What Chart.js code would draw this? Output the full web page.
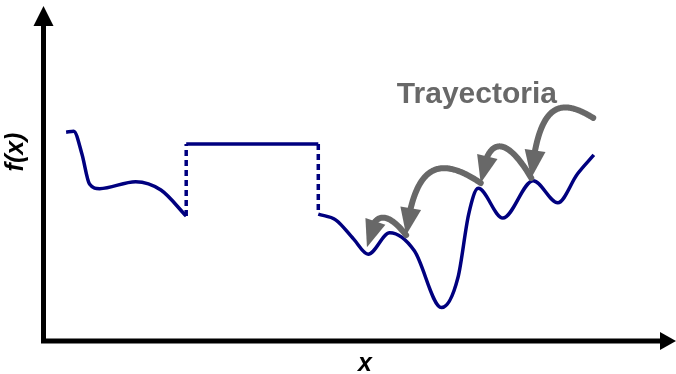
<!DOCTYPE html>
<html>
<head>
<meta charset="utf-8">
<script src="https://cdn.jsdelivr.net/npm/chart.js@4/dist/chart.umd.min.js"></script>
<style>
  html, body { margin: 0; padding: 0; background: #fff; }
  canvas { display: block; }
</style>
</head>
<body>
<canvas id="grafico" width="676" height="374"></canvas>
<script>
// tramo izquierdo de f(x)
const izqX = [0.35, 0.47, 0.60, 0.72, 0.88, 1.45, 1.85, 2.25];
const izqY = [6.25, 6.28, 5.60, 4.70, 4.56, 4.77, 4.52, 3.74];

// meseta central
const mesetaX = [2.25, 4.34];
const mesetaY = [5.90, 5.90];

// tramo derecho de f(x)
const derX = [4.34, 4.62, 4.90, 5.13, 5.47, 5.86, 6.29, 6.55, 6.72, 6.87,
              7.26, 7.74, 8.13, 8.44, 8.70];
const derY = [3.80, 3.62, 3.05, 2.60, 3.24, 2.70, 1.00, 1.90, 3.80, 4.57,
              3.68, 4.80, 4.14, 5.00, 5.57];

// puntos de la trayectoria (saltos entre óptimos locales)
const trayX = [8.69, 7.71, 6.91, 5.73, 5.11];
const trayY = [6.68, 4.88, 4.73, 3.17, 2.81];
const arcoAlto = [19, 43, 25, 25];

const rotulo = { texto: 'Trayectoria', x: 6.85, y: 7.13 };

const azul = '#00007f';
const gris = '#686868';

const puntos = (xs, ys) => xs.map((x, i) => ({ x: x, y: ys[i] }));

function curva(xs, ys) {
  return {
    data: puntos(xs, ys),
    borderColor: azul,
    borderWidth: 3.5,
    pointRadius: 0,
    cubicInterpolationMode: 'monotone',
    borderCapStyle: 'butt'
  };
}

function punteada(a, b) {
  return {
    data: [a, b],
    borderColor: azul,
    borderWidth: 3.5,
    borderDash: [6, 4],
    pointRadius: 0,
    tension: 0
  };
}

const n = izqX.length - 1;
const datasets = [
  curva(izqX, izqY),
  Object.assign(curva(mesetaX, mesetaY), { cubicInterpolationMode: 'default', tension: 0 }),
  curva(derX, derY),
  punteada({ x: izqX[n], y: izqY[n] }, { x: mesetaX[0], y: mesetaY[0] }),
  punteada({ x: mesetaX[1], y: mesetaY[1] }, { x: derX[0], y: derY[0] })
];

function bezier(p0, p1, p2, p3, t) {
  const u = 1 - t;
  return {
    x: u*u*u*p0.x + 3*u*u*t*p1.x + 3*u*t*t*p2.x + t*t*t*p3.x,
    y: u*u*u*p0.y + 3*u*u*t*p1.y + 3*u*t*t*p2.y + t*t*t*p3.y
  };
}

// flecha curva gruesa con punta triangular
function flecha(ctx, p0, p3, alto) {
  const w = p0.x - p3.x;
  const tope = Math.min(p0.y, p3.y) - alto;
  const p1 = { x: p0.x - 0.5 * w, y: tope };
  const p2 = { x: p3.x + 0.12 * w, y: tope };
  const largo = 27, medio = 10.5;
  const muestras = [];
  for (let i = 0; i <= 120; i++) muestras.push(bezier(p0, p1, p2, p3, i / 120));
  let k = muestras.length - 1;
  while (k > 0 && Math.hypot(muestras[k].x - p3.x, muestras[k].y - p3.y) < largo) k--;
  const base = muestras[k];
  const dx = (p3.x - base.x), dy = (p3.y - base.y);
  const d = Math.hypot(dx, dy);
  const ux = dx / d, uy = dy / d;

  ctx.save();
  ctx.strokeStyle = gris;
  ctx.fillStyle = gris;
  ctx.lineWidth = 6;
  ctx.lineCap = 'round';
  ctx.beginPath();
  ctx.moveTo(muestras[0].x, muestras[0].y);
  for (let i = 1; i <= k + 2 && i < muestras.length; i++) ctx.lineTo(muestras[i].x, muestras[i].y);
  ctx.stroke();
  ctx.beginPath();
  ctx.moveTo(p3.x, p3.y);
  ctx.lineTo(base.x - uy * medio, base.y + ux * medio);
  ctx.lineTo(base.x + uy * medio, base.y - ux * medio);
  ctx.closePath();
  ctx.fill();
  ctx.restore();
}

const decorado = {
  id: 'decorado',
  afterDatasetsDraw(chart) {
    const ctx = chart.ctx;
    const a = chart.chartArea;
    const sx = chart.scales.x, sy = chart.scales.y;

    // ejes con flechas
    ctx.save();
    ctx.strokeStyle = '#000';
    ctx.fillStyle = '#000';
    ctx.lineWidth = 5;
    ctx.lineJoin = 'miter';
    ctx.beginPath();
    ctx.moveTo(a.left - 0.5, a.top + 18);
    ctx.lineTo(a.left - 0.5, a.bottom);
    ctx.lineTo(a.right - 14, a.bottom);
    ctx.stroke();
    ctx.beginPath();
    ctx.moveTo(a.left - 0.5, a.top - 1);
    ctx.lineTo(a.left - 10.5, a.top + 19);
    ctx.lineTo(a.left + 9.5, a.top + 19);
    ctx.closePath();
    ctx.fill();
    ctx.beginPath();
    ctx.moveTo(a.right, a.bottom);
    ctx.lineTo(a.right - 16, a.bottom - 9);
    ctx.lineTo(a.right - 16, a.bottom + 9);
    ctx.closePath();
    ctx.fill();

    // títulos de los ejes
    ctx.font = 'italic bold 25px "Liberation Sans", Arial, sans-serif';
    ctx.textAlign = 'center';
    ctx.textBaseline = 'middle';
    ctx.fillText('x', 365, a.bottom + 23);
    ctx.translate(a.left - 28, 152);
    ctx.rotate(-Math.PI / 2);
    ctx.fillText('f(x)', 0, 0);
    ctx.restore();

    // rótulo y flechas de la trayectoria
    ctx.save();
    ctx.fillStyle = gris;
    ctx.font = 'bold 30px "Liberation Sans", Arial, sans-serif';
    ctx.textAlign = 'center';
    ctx.textBaseline = 'alphabetic';
    ctx.fillText(rotulo.texto, sx.getPixelForValue(rotulo.x), sy.getPixelForValue(rotulo.y));
    ctx.restore();

    for (let i = 0; i < trayX.length - 1; i++) {
      const p0 = { x: sx.getPixelForValue(trayX[i]), y: sy.getPixelForValue(trayY[i]) };
      const p3 = { x: sx.getPixelForValue(trayX[i + 1]), y: sy.getPixelForValue(trayY[i + 1]) };
      flecha(ctx, p0, p3, arcoAlto[i]);
    }
  }
};

new Chart(document.getElementById('grafico').getContext('2d'), {
  type: 'line',
  data: { datasets: datasets },
  options: {
    responsive: false,
    animation: false,
    layout: { padding: { left: 44, top: 7, right: 0, bottom: 33 } },
    plugins: { legend: { display: false }, tooltip: { enabled: false } },
    scales: {
      x: { type: 'linear', min: 0, max: 10, display: false },
      y: { type: 'linear', min: 0, max: 10, display: false }
    }
  },
  plugins: [decorado]
});
</script>
</body>
</html>
